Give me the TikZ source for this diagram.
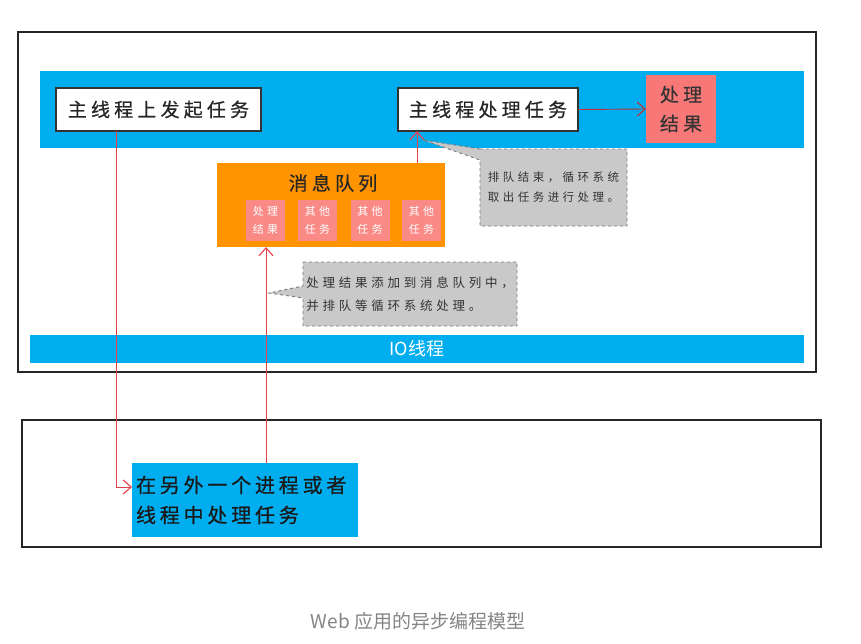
\documentclass[tikz,border=0pt]{standalone}
\usepackage{fontspec}
\setmainfont{Noto Sans CJK SC}
\newfontfamily\cjk{Noto Sans CJK SC}
\newfontfamily\cjks[LetterSpace=22,FakeBold=0.6]{Noto Sans CJK SC}
\newfontfamily\cjkt[LetterSpace=30]{Noto Sans CJK SC}
\usetikzlibrary{arrows.meta,calc}
\definecolor{bandblue}{HTML}{00AEEF}
\definecolor{qorange}{HTML}{FF9300}
\definecolor{resred}{HTML}{F87878}
\definecolor{qpink}{HTML}{F98A86}
\definecolor{cgray}{HTML}{C9C9C9}
\definecolor{cborder}{HTML}{7A7A7A}
\definecolor{linered}{HTML}{E8404A}
\definecolor{capgray}{HTML}{858585}
\begin{document}
\begin{tikzpicture}[x=1pt,y=-1pt,
  box/.style={rectangle, inner sep=0pt, outer sep=0pt},
  outerbox/.style={box, draw=black!85, line width=2.4pt},
  band/.style={box, fill=bandblue},
  whitebox/.style={box, fill=white, draw=black!80, line width=1.5pt, text=black!85, font=\fontsize{19}{22}\selectfont\cjks},
  resbox/.style={box, fill=resred, text=black!80, align=center, font=\fontsize{19}{29}\selectfont\cjks},
  queuebox/.style={box, fill=qorange},
  smallbox/.style={box, fill=qpink, text=white, align=center, minimum width=39, minimum height=41, font=\fontsize{11}{18}\selectfont\cjkt},
  callout/.style={fill=cgray, draw=cborder, dashed, line width=0.9pt},
  calltext/.style={align=left, text=black!80},
  redarrow/.style={draw=linered, line width=0.9pt, -{Straight Barb[length=8pt,width=14pt,line width=1.1pt]}},
]
\useasboundingbox (0,0) rectangle (861,643);
\fill[white] (0,0) rectangle (861,643);

% outer boxes
\node[outerbox, minimum width=798, minimum height=340] (outer1) at (417,202) {};
\node[outerbox, minimum width=799, minimum height=127] (outer2) at (421.5,483.5) {};

% top band
\node[band, minimum width=764, minimum height=77] (mainband) at (422,109.5) {};
\node[whitebox, minimum width=205, minimum height=43] (start) at (158.5,109.5) {主线程上发起任务};
\node[whitebox, minimum width=180, minimum height=43] (handle) at (488,109.5) {主线程处理任务};
\node[resbox, minimum width=70, minimum height=68] (result) at (681,109) {处理\\结果};

% message queue
\node[queuebox, minimum width=228, minimum height=84] (queue) at (331,205) {};
\node[font=\fontsize{19}{22}\selectfont\cjks, text=black!85] (qtitle) at (333,183) {消息队列};
\node[smallbox] (q1) at (265.5,220.5) {处理\\结果};
\node[smallbox] (q2) at (317.5,220.5) {其他\\任务};
\node[smallbox] (q3) at (370,220.5) {其他\\任务};
\node[smallbox] (q4) at (421.5,220.5) {其他\\任务};

% callout 1
\path node[box, minimum width=147, minimum height=77] (c1) at (553.5,187.5) {};
\coordinate (c1tip) at (423,140);
\path[callout] (c1.north west) -- (c1.north east) -- (c1.south east) -- (c1.south west)
  -- ([yshift=-11pt]c1.north west) -- (c1tip) -- cycle;
\node[calltext, font=\fontsize{11.5}{20}\selectfont\cjkt] (c1text) at (c1) {排队结束，循环系统\\取出任务进行处理。};

% callout 2
\path node[box, minimum width=214, minimum height=64] (c2) at (410,294) {};
\coordinate (c2tip) at (269,293);
\path[callout] (c2.north west) -- (c2.north east) -- (c2.south east) -- (c2.south west)
  -- ([yshift=-4pt]c2.west) -- (c2tip) -- ([yshift=8pt]c2.west) -- cycle;
\node[calltext, font=\fontsize{12.5}{23}\selectfont\cjkt] (c2text) at (c2) {处理结果添加到消息队列中，\\并排队等循环系统处理。};

% IO band
\node[band, minimum width=774, minimum height=28, text=white, font=\fontsize{18}{20}\selectfont\cjk] (ioband) at (417,349) {IO线程};

% other process box
\node[band, minimum height=74, text width=218, inner xsep=4pt, align=left, text=black!90,
  font=\fontsize{20}{30}\selectfont\cjks\addfontfeature{LetterSpace=19}] (other) at (245,500) {在另外一个进程或者\\线程中处理任务};

% caption
\node[text=capgray, font=\fontsize{19}{22}\selectfont\cjk] (caption) at (418,621) {Web 应用的异步编程模型};

% connectors
\draw[redarrow, draw=linered!80!black] (handle.east) -- (result.west);
\draw[redarrow] ([xshift=-42.5pt]start.south) |- ([yshift=13pt]other.west);
\draw[redarrow] ([xshift=21pt]other.north) -- ([xshift=21pt]other.north |- queue.south);
\draw[redarrow] ([xshift=-71pt]handle.south |- queue.north) -- ([xshift=-71pt]handle.south);
\end{tikzpicture}
\end{document}
